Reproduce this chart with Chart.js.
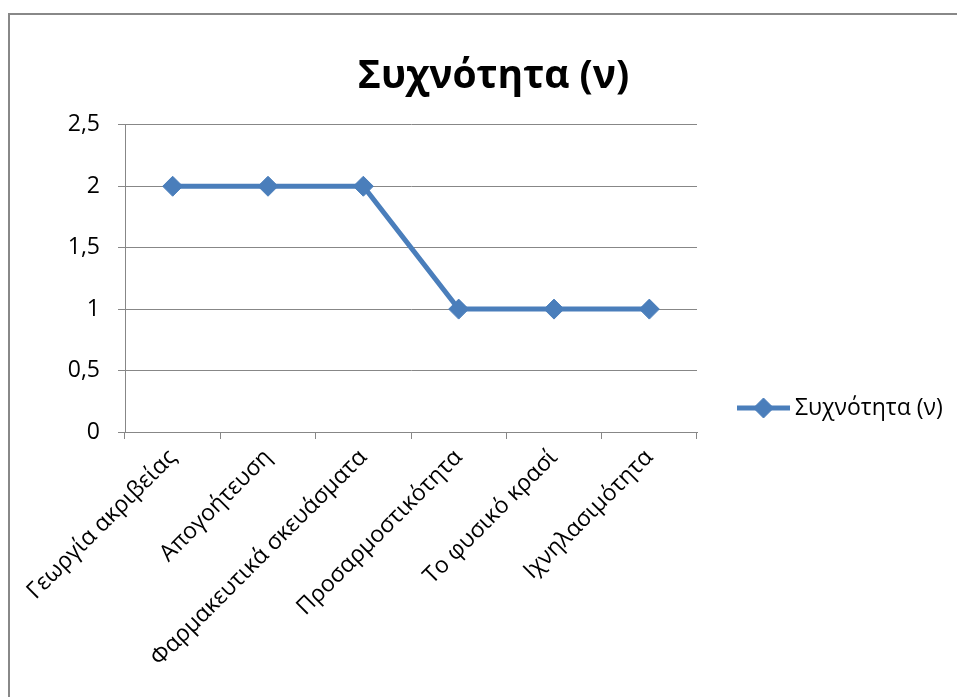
<!DOCTYPE html>
<html>
<head>
<meta charset="utf-8">
<script src="https://cdn.jsdelivr.net/npm/chart.js@4"></script>
<style>
  html, body { margin: 0; padding: 0; background: #fff; }
  #frame { position: absolute; left: 8px; top: 13px; width: 960px; height: 720px; border: 2px solid #888; box-sizing: border-box; }
  #wrap { position: absolute; left: 0; top: 0; width: 957px; height: 697px; }
</style>
</head>
<body>
<div id="frame"></div>
<div id="wrap"><canvas id="c" width="957" height="697"></canvas></div>
<script>
const chartTitle = 'Συχνότητα (ν)';
const seriesName = 'Συχνότητα (ν)';
const categories = ['Γεωργία ακριβείας', 'Απογοήτευση', 'Φαρμακευτικά σκευάσματα', 'Προσαρμοστικότητα', 'Το φυσικό κρασί', 'Ιχνηλασιμότητα'];
const frequency = [2, 2, 2, 1, 1, 1];
const yTicks = [0, 0.5, 1, 1.5, 2, 2.5];

const FONT = "'Open Sans', sans-serif";
const BLUE = '#4A7EBB';
const GRID = '#878787';

const legendBox = {
  position: 'right', weight: 100, fullSize: false,
  options: { stack: undefined, stackWeight: 1 },
  isHorizontal() { return false; },
  update(maxW, maxH) { this.width = 260; this.height = maxH; },
  getPadding() { return { left: 0, right: 0, top: 0, bottom: 0 }; },
  draw() {}
};

const legendPlugin = {
  id: 'xlLegend',
  start(chart) { Chart.layouts.addBox(chart, legendBox); },
  afterDraw(chart) {
    const ds = chart.data.datasets[0];
    const ctx = chart.ctx;
    const x0 = chart.chartArea.right + 40, y0 = 408;
    ctx.save();
    ctx.strokeStyle = ds.borderColor;
    ctx.lineWidth = ds.borderWidth;
    ctx.beginPath(); ctx.moveTo(x0, y0); ctx.lineTo(x0 + 53, y0); ctx.stroke();
    ctx.fillStyle = ds.pointBackgroundColor;
    ctx.strokeStyle = ds.pointBorderColor;
    ctx.lineWidth = 1;
    Chart.helpers.drawPoint(ctx, { pointStyle: 'rectRot', radius: ds.pointRadius, borderWidth: 1, rotation: 0 }, x0 + 26.5, y0);
    ctx.fillStyle = '#000';
    ctx.font = '23px ' + FONT;
    ctx.textBaseline = 'middle';
    ctx.textAlign = 'left';
    ctx.fillText(ds.label, x0 + 58, y0);
    ctx.restore();
  }
};

new Chart(document.getElementById('c'), {
  type: 'line',
  data: {
    labels: categories,
    datasets: [{
      label: seriesName,
      data: frequency,
      borderColor: BLUE,
      backgroundColor: BLUE,
      borderWidth: 5,
      pointStyle: 'rectRot',
      pointRadius: 10,
      pointHoverRadius: 10,
      pointBackgroundColor: BLUE,
      pointBorderColor: BLUE,
      pointBorderWidth: 1,
      tension: 0,
      fill: false
    }]
  },
  options: {
    responsive: false,
    animation: false,
    events: [],
    layout: { padding: { left: 30, right: 0, top: 0, bottom: 0 } },
    plugins: {
      legend: { display: false },
      tooltip: { enabled: false },
      title: {
        display: true,
        text: chartTitle,
        color: '#000',
        font: { family: FONT, size: 39, weight: 'bold' },
        padding: { top: 53, bottom: 25 }
      }
    },
    scales: {
      x: {
        type: 'category',
        offset: true,
        grid: { display: true, drawOnChartArea: false, offset: true, color: GRID, tickLength: 7, tickColor: GRID },
        border: { display: true, color: GRID, width: 1 },
        ticks: { color: '#000', font: { family: FONT, size: 23 }, minRotation: 45, maxRotation: 45, autoSkip: false, padding: 5 },
        afterFit(s) { s.height = 265; }
      },
      y: {
        min: 0, max: 2.5,
        afterBuildTicks(s) { s.ticks = yTicks.map(v => ({ value: v })); },
        grid: { color: GRID, tickLength: 7, tickColor: GRID },
        border: { display: true, color: GRID, width: 1 },
        ticks: {
          color: '#000', font: { family: FONT, size: 23 }, padding: 18,
          callback: v => String(v).replace('.', ',')
        },
        afterFit(s) { s.width = 95; }
      }
    }
  },
  plugins: [legendPlugin]
});
</script>
</body>
</html>
